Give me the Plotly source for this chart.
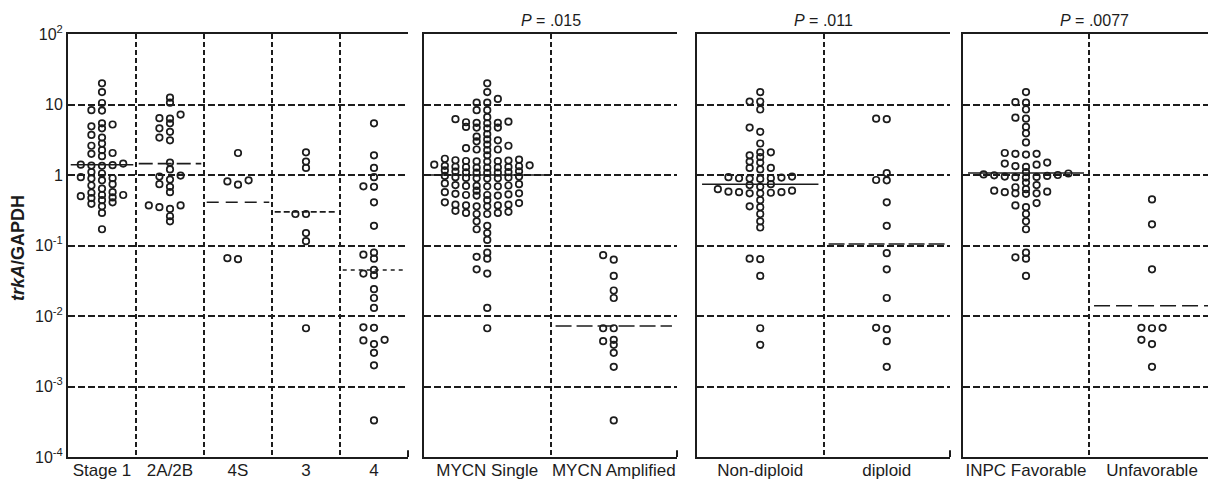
import math
import plotly.graph_objects as go

# ---------------- data ----------------
stage_categories = ["Stage 1", "2A/2B", "4S", "3", "4"]
mycn_categories = ["MYCN Single", "MYCN Amplified"]
ploidy_categories = ["Non-diploid", "diploid"]
inpc_categories = ["INPC Favorable", "Unfavorable"]

stage1 = [20, 15, 10.5, 8.3, 8.2, 5.4, 5.2, 4.9, 4.6, 3.7, 3.4, 2.8, 2.6, 2.25, 2.05,
          2.0, 1.85, 1.45, 1.4, 1.38, 1.36, 1.35, 1.1, 1.05, 0.93, 0.9, 0.89, 0.84,
          0.74, 0.71, 0.64, 0.57, 0.56, 0.52, 0.52, 0.5, 0.48, 0.47, 0.44, 0.41,
          0.39, 0.36, 0.29, 0.17]
stage2ab = [12.5, 10.6, 7.2, 6.4, 6.3, 5.4, 4.6, 4.1, 3.4, 3.1, 1.5, 1.2, 0.98, 0.95,
            0.86, 0.74, 0.68, 0.57, 0.37, 0.37, 0.35, 0.33, 0.26, 0.22]
stage4s = [2.05, 0.84, 0.81, 0.73, 0.066, 0.064]
stage3 = [2.1, 1.55, 1.26, 0.28, 0.28, 0.15, 0.115, 0.0067]
stage4 = [5.4, 1.9, 1.26, 0.93, 0.69, 0.68, 0.41, 0.19, 0.079, 0.074, 0.065, 0.045,
          0.040, 0.038, 0.024, 0.018, 0.013, 0.0069, 0.0068, 0.0046, 0.0045, 0.0040,
          0.0030, 0.0020, 0.00033]

mycn_single = [20, 15, 12, 10.6, 10.6, 8.3, 8.3,
               6.2, 6.6,
               5.4, 5.5, 5.5, 5.6, 5.7,
               4.6, 4.7, 4.7, 4.8,
               3.8, 3.5, 3.2, 3.0, 3.1,
               2.7, 2.6,
               2.25, 2.3, 2.3, 2.4,
               1.9,
               1.55, 1.56, 1.57, 1.58, 1.6, 1.62, 1.65, 1.7,
               1.27, 1.27, 1.28, 1.29, 1.3, 1.31, 1.33, 1.35, 1.37, 1.4,
               1.07, 1.08, 1.08, 1.09, 1.1, 1.12, 1.13, 1.16,
               0.89, 0.9, 0.9, 0.91, 0.92, 0.93, 0.95, 0.97,
               0.69, 0.69, 0.70, 0.70, 0.71, 0.72, 0.74, 0.76,
               0.51, 0.51, 0.52, 0.52, 0.53, 0.54, 0.55, 0.57, 0.6,
               0.36, 0.36, 0.37, 0.37, 0.38, 0.38, 0.40, 0.41, 0.44,
               0.28, 0.28, 0.29, 0.29, 0.30, 0.31,
               0.22, 0.19, 0.17, 0.15, 0.12,
               0.079, 0.069, 0.065, 0.046, 0.04,
               0.013, 0.0067]
mycn_amplified = [0.073, 0.063, 0.037, 0.023, 0.018, 0.0067, 0.0067, 0.0046, 0.0044,
                  0.0039, 0.0030, 0.0019, 0.00033]

non_diploid = [15, 11, 11, 8.5, 4.7, 4.1, 2.8, 2.1, 2.1, 1.9, 1.8, 1.55, 1.5, 1.26,
               1.26, 1.2,
               0.88, 0.89, 0.9, 0.9, 0.92, 0.93, 0.95,
               0.55, 0.55, 0.56, 0.57, 0.57, 0.58, 0.6, 0.63, 0.68, 0.72, 0.74,
               0.44, 0.36, 0.35, 0.28, 0.22, 0.18, 0.065, 0.064, 0.037, 0.0067, 0.0039]
diploid = [6.3, 6.2, 1.06, 0.85, 0.84, 0.41, 0.19, 0.078, 0.046, 0.018, 0.0068,
           0.0065, 0.0044, 0.0019]

inpc_favorable = [15, 10.8, 10.6, 8.5, 6.5, 6.3, 4.8, 3.9, 2.9,
                  1.95, 2.0, 2.0, 2.05,
                  1.3, 1.34, 1.4, 1.45, 1.5,
                  0.92, 0.93, 0.94, 0.95, 0.97, 0.99, 1.0, 1.02, 1.05, 1.1,
                  0.54, 0.55, 0.55, 0.57, 0.58, 0.6, 0.63, 0.67, 0.72, 0.78,
                  0.37, 0.35, 0.4, 0.28, 0.22, 0.17, 0.079, 0.068, 0.065, 0.037]
unfavorable = [0.45, 0.2, 0.046, 0.0068, 0.0068, 0.0067, 0.0046, 0.004, 0.0019]

stage_medians = [1.4, 1.45, 0.41, 0.30, 0.045]
mycn_medians = [1.0, 0.0072]
ploidy_medians = [0.74, 0.105]
inpc_medians = [1.07, 0.014]

p_values = ["", ".015", ".011", ".0077"]
y_tick_values = [100, 10, 1, 0.1, 0.01, 0.001, 0.0001]
y_tick_labels = ["10<sup>2</sup>", "10", "1", "10<sup>-1</sup>", "10<sup>-2</sup>",
                 "10<sup>-3</sup>", "10<sup>-4</sup>"]
y_title = "<b><i>trkA</i>/GAPDH</b>"

# ---------------- layout / style ----------------
W, H = 1208, 479
INK = "#1c1c1c"
FONT = "Liberation Sans, Arial, sans-serif"
PLOT_TOP, PLOT_BOTTOM = 34, 457
panel_px = [(68, 408), (424, 677), (697, 950), (963, 1215)]
title_px = [None, 551, 823, 1094]
median_dash = [["solid", "14px,5px", "12px,7px", "6px,3px", "4px,4px"],
               ["solid", "16px,5px"],
               ["solid", "16px,4px"],
               ["solid", "16px,6px"]]

panels = [
    (stage_categories, [stage1, stage2ab, stage4s, stage3, stage4], stage_medians),
    (mycn_categories, [mycn_single, mycn_amplified], mycn_medians),
    (ploidy_categories, [non_diploid, diploid], ploidy_medians),
    (inpc_categories, [inpc_favorable, unfavorable], inpc_medians),
]

SLOT_PX = 10.6
MIN_DY = 4.6
PX_PER_DECADE = (PLOT_BOTTOM - PLOT_TOP) / 6.0


def swarm_offsets(values):
    """Discrete-slot beeswarm (lowest values placed first, nearest the centre)."""
    order = sorted(range(len(values)), key=lambda i: values[i])
    used = {}
    slots = [0] * len(values)
    for i in order:
        y = math.log10(values[i]) * PX_PER_DECADE
        k = 0
        chosen = None
        while chosen is None:
            cands = [0] if k == 0 else [-k, k]
            for s in cands:
                if all(abs(y - yy) >= MIN_DY for yy in used.get(s, [])):
                    chosen = s
                    break
            k += 1
        used.setdefault(chosen, []).append(y)
        slots[i] = chosen
    return slots


fig = go.Figure()
ydom = [1 - PLOT_BOTTOM / H, 1 - PLOT_TOP / H]
annotations = []
shapes = []

for p, ((cats, series, medians), (x0, x1)) in enumerate(zip(panels, panel_px)):
    n = len(cats)
    sfx = "" if p == 0 else str(p + 1)
    xa, ya = "x" + sfx, "y" + sfx
    px_per_unit = (x1 - x0) / n
    vis_x1 = min(x1, W)
    rmax = -0.5 + (vis_x1 - x0) / px_per_unit
    slot_u = SLOT_PX / px_per_unit

    for i, vals in enumerate(series):
        slots = swarm_offsets(vals)
        fig.add_trace(go.Scatter(
            x=[i + s * slot_u for s in slots], y=vals, mode="markers",
            xaxis=xa, yaxis=ya, hoverinfo="y",
            marker=dict(symbol="circle-open", size=6.5, color=INK,
                        line=dict(width=1.7, color=INK))))
        fig.add_trace(go.Scatter(
            x=[i - 0.46, i + 0.46], y=[medians[i], medians[i]], mode="lines",
            xaxis=xa, yaxis=ya, hoverinfo="skip",
            line=dict(color=INK, width=1.6, dash=median_dash[p][i])))

    fig.layout["xaxis" + sfx] = dict(
        domain=[x0 / W, vis_x1 / W], range=[-0.5, rmax], anchor=ya,
        tickmode="array", tickvals=list(range(n)), ticktext=cats,
        tickfont=dict(size=17, color=INK, family=FONT), ticks="",
        ticklabelstandoff=-3,
        showgrid=False, zeroline=False, fixedrange=True, automargin=False,
        showline=True, mirror=True, linecolor=INK, linewidth=2,
        minor=dict(tickvals=[i + 0.5 for i in range(n - 1)], showgrid=True,
                   gridcolor=INK, griddash="5px,3px", gridwidth=1.6, ticks=""),
    )
    fig.layout["yaxis" + sfx] = dict(
        domain=ydom, type="log", range=[-4, 2], anchor=xa,
        tickmode="array", tickvals=y_tick_values, ticktext=y_tick_labels,
        showticklabels=(p == 0), tickfont=dict(size=16, color=INK, family=FONT),
        ticks="", showgrid=True, gridcolor=INK, griddash="7px,3px", gridwidth=1.6,
        zeroline=False, showline=True, linecolor=INK, linewidth=2, fixedrange=True,
        automargin=False,
    )
    if p_values[p]:
        annotations.append(dict(
            xref="paper", yref="paper", x=title_px[p] / W, y=1 - 20 / H,
            xanchor="center", yanchor="middle",
            text="<i>P</i> = " + p_values[p], showarrow=False,
            font=dict(size=16, color=INK, family=FONT)))
    if x1 <= W:
        shapes.append(dict(type="line", xref=xa + " domain", yref=ya + " domain",
                           x0=1, x1=1, y0=0, y1=0.016,
                           line=dict(color=INK, width=2)))

annotations.append(dict(
    xref="paper", yref="paper", x=18 / W, y=1 - 248 / H, text=y_title,
    xanchor="center", yanchor="middle",
    textangle=-90, showarrow=False, font=dict(size=18, color=INK, family=FONT)))

fig.update_layout(
    width=W, height=H, autosize=False,
    margin=dict(l=0, r=0, t=0, b=0, pad=0, autoexpand=False),
    paper_bgcolor="white", plot_bgcolor="white",
    showlegend=False, annotations=annotations, shapes=shapes,
    font=dict(family=FONT, color=INK),
)

fig.write_html("out.html",
               config={"displayModeBar": False},
               post_script="document.body.style.margin='0';"
                           "document.body.style.overflow='hidden';")
